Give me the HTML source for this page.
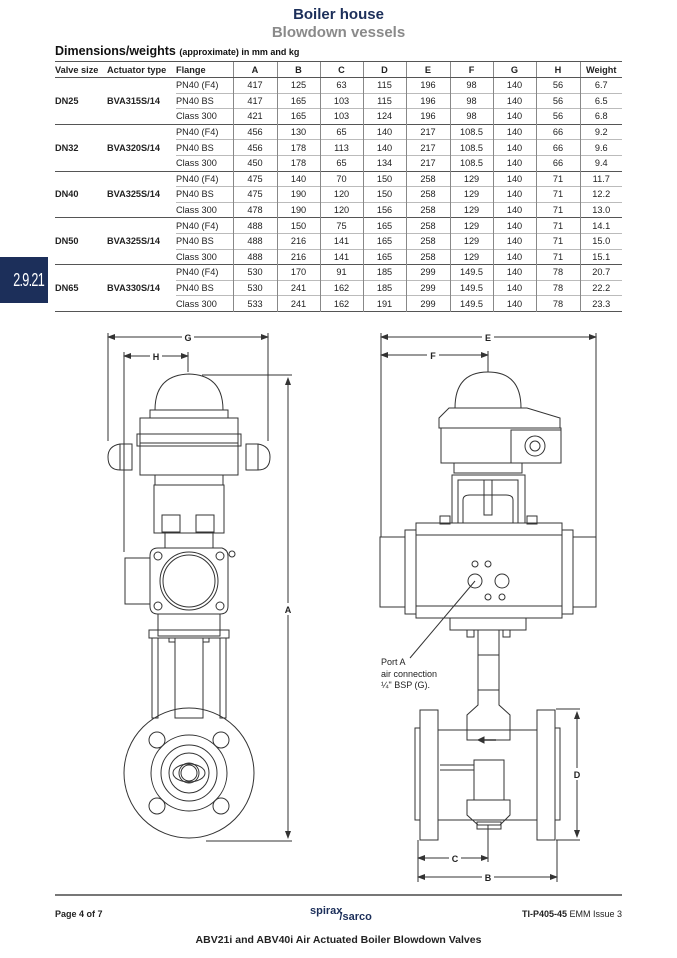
<!DOCTYPE html>
<html><head><meta charset="utf-8"><style>
body{margin:0;width:677px;height:958px;background:#fff;position:relative;font-family:"Liberation Sans",Arial,sans-serif;overflow:hidden}
.a{position:absolute}
h1{position:absolute;margin:0;left:0;width:677px;text-align:center;top:6px;font-size:15px;font-weight:bold;color:#1c2f5a}
h2{position:absolute;margin:0;left:0;width:677px;text-align:center;top:24px;font-size:15px;font-weight:bold;color:#8a8a8a}
table{position:absolute;left:55px;top:61px;width:567px;border-collapse:collapse;font-size:9.2px;color:#222}
td{height:14.6px;padding:0;border-top:1px solid #bbb;text-align:center;border-left:1px solid #888}
tr.g td{border-top:1px solid #555}
td.n{border-left:none;text-align:left;font-weight:bold}
td.f{border-left:none;text-align:left}
th{height:15px;font-weight:bold;border-top:1.5px solid #555;border-bottom:1px solid #555;border-left:1px solid #888;padding:0}
th.l{border-left:none;text-align:left}
table{border-bottom:1px solid #555}
</style></head><body>
<h1>Boiler house</h1><h2>Blowdown vessels</h2>
<div class="a" style="left:55px;top:44px;font-size:12.5px;font-weight:bold;color:#111">Dimensions/weights <span style="font-size:9px">(approximate) in mm and kg</span></div>
<table>
<colgroup><col style="width:52px"><col style="width:69px"><col style="width:57px"><col style="width:44px"><col style="width:43px"><col style="width:43px"><col style="width:43px"><col style="width:44px"><col style="width:43px"><col style="width:43px"><col style="width:44px"><col style="width:42px"></colgroup>
<tr><th class="l">Valve size</th><th class="l" style="padding-left:0">Actuator type</th><th class="l">Flange</th><th>A</th><th>B</th><th>C</th><th>D</th><th>E</th><th>F</th><th>G</th><th>H</th><th>Weight</th></tr>
<tr><td class="n" rowspan="3">DN25</td><td class="n" rowspan="3">BVA315S/14</td><td class="f">PN40 (F4)</td><td>417</td><td>125</td><td>63</td><td>115</td><td>196</td><td>98</td><td>140</td><td>56</td><td>6.7</td></tr>
<tr><td class="f">PN40 BS</td><td>417</td><td>165</td><td>103</td><td>115</td><td>196</td><td>98</td><td>140</td><td>56</td><td>6.5</td></tr>
<tr><td class="f">Class 300</td><td>421</td><td>165</td><td>103</td><td>124</td><td>196</td><td>98</td><td>140</td><td>56</td><td>6.8</td></tr>
<tr class="g"><td class="n" rowspan="3">DN32</td><td class="n" rowspan="3">BVA320S/14</td><td class="f">PN40 (F4)</td><td>456</td><td>130</td><td>65</td><td>140</td><td>217</td><td>108.5</td><td>140</td><td>66</td><td>9.2</td></tr>
<tr><td class="f">PN40 BS</td><td>456</td><td>178</td><td>113</td><td>140</td><td>217</td><td>108.5</td><td>140</td><td>66</td><td>9.6</td></tr>
<tr><td class="f">Class 300</td><td>450</td><td>178</td><td>65</td><td>134</td><td>217</td><td>108.5</td><td>140</td><td>66</td><td>9.4</td></tr>
<tr class="g"><td class="n" rowspan="3">DN40</td><td class="n" rowspan="3">BVA325S/14</td><td class="f">PN40 (F4)</td><td>475</td><td>140</td><td>70</td><td>150</td><td>258</td><td>129</td><td>140</td><td>71</td><td>11.7</td></tr>
<tr><td class="f">PN40 BS</td><td>475</td><td>190</td><td>120</td><td>150</td><td>258</td><td>129</td><td>140</td><td>71</td><td>12.2</td></tr>
<tr><td class="f">Class 300</td><td>478</td><td>190</td><td>120</td><td>156</td><td>258</td><td>129</td><td>140</td><td>71</td><td>13.0</td></tr>
<tr class="g"><td class="n" rowspan="3">DN50</td><td class="n" rowspan="3">BVA325S/14</td><td class="f">PN40 (F4)</td><td>488</td><td>150</td><td>75</td><td>165</td><td>258</td><td>129</td><td>140</td><td>71</td><td>14.1</td></tr>
<tr><td class="f">PN40 BS</td><td>488</td><td>216</td><td>141</td><td>165</td><td>258</td><td>129</td><td>140</td><td>71</td><td>15.0</td></tr>
<tr><td class="f">Class 300</td><td>488</td><td>216</td><td>141</td><td>165</td><td>258</td><td>129</td><td>140</td><td>71</td><td>15.1</td></tr>
<tr class="g"><td class="n" rowspan="3">DN65</td><td class="n" rowspan="3">BVA330S/14</td><td class="f">PN40 (F4)</td><td>530</td><td>170</td><td>91</td><td>185</td><td>299</td><td>149.5</td><td>140</td><td>78</td><td>20.7</td></tr>
<tr><td class="f">PN40 BS</td><td>530</td><td>241</td><td>162</td><td>185</td><td>299</td><td>149.5</td><td>140</td><td>78</td><td>22.2</td></tr>
<tr><td class="f">Class 300</td><td>533</td><td>241</td><td>162</td><td>191</td><td>299</td><td>149.5</td><td>140</td><td>78</td><td>23.3</td></tr>
</table>
<div class="a" style="left:0;top:257px;width:48px;height:46px;background:#1c2f5a"></div>
<div class="a" style="left:0;top:257px;width:44px;height:46px;color:#fff;font-size:18px;line-height:46px;text-align:right;transform:scaleX(0.7);transform-origin:right center;letter-spacing:-1px">2.9.21</div>
<svg class="a" style="left:0;top:0" width="677" height="958" viewBox="0 0 677 958" fill="none" stroke="#333" stroke-width="1" font-family="Liberation Sans,Arial,sans-serif">
<defs><marker id="ar" markerWidth="8" markerHeight="6" refX="7" refY="3" orient="auto-start-reverse"><path d="M0,0L8,3L0,6z" fill="#333" stroke="none"/></marker></defs>
<line x1="108" y1="337" x2="268" y2="337" marker-start="url(#ar)" marker-end="url(#ar)"/>
<line x1="108" y1="333" x2="108" y2="441"/><line x1="268" y1="333" x2="268" y2="441"/>
<rect x="182" y="331" width="12" height="11" fill="#fff" stroke="none"/><text x="188" y="341" font-size="9" font-weight="bold" fill="#222" stroke="none" text-anchor="middle">G</text>
<line x1="124" y1="356" x2="188" y2="356" marker-start="url(#ar)" marker-end="url(#ar)"/>
<line x1="124" y1="352" x2="124" y2="552"/><line x1="188" y1="352" x2="188" y2="372"/>
<rect x="150" y="350" width="12" height="11" fill="#fff" stroke="none"/><text x="156" y="360" font-size="9" font-weight="bold" fill="#222" stroke="none" text-anchor="middle">H</text>
<line x1="288" y1="378" x2="288" y2="838" marker-start="url(#ar)" marker-end="url(#ar)"/>
<line x1="202" y1="375" x2="292" y2="375"/><line x1="206" y1="841" x2="292" y2="841"/>
<rect x="282" y="603" width="12" height="12" fill="#fff" stroke="none"/><text x="288" y="613" font-size="9" font-weight="bold" fill="#222" stroke="none" text-anchor="middle">A</text>
<path d="M155,410 Q155,375 189,374 Q223,375 223,410 Z"/>
<rect x="150" y="410" width="78" height="8"/>
<rect x="140" y="418" width="98" height="25"/>
<rect x="137" y="434" width="104" height="12"/>
<rect x="120" y="444" width="12" height="26"/><rect x="246" y="444" width="12" height="26"/>
<path d="M120,444 Q108,446 108,457 Q108,470 120,470"/><path d="M258,444 Q270,446 270,457 Q270,470 258,470"/>
<rect x="140" y="443" width="98" height="32"/>
<rect x="155" y="475" width="68" height="10"/>
<rect x="154" y="485" width="70" height="48"/>
<rect x="162" y="515" width="18" height="17"/><rect x="196" y="515" width="18" height="17"/>
<rect x="165" y="533" width="48" height="15"/>
<path d="M158,548 L222,548 Q228,550 228,556 L228,606 Q228,614 220,614 L158,614 Q150,614 150,606 L150,556 Q150,548 158,548Z"/>
<circle cx="189" cy="581" r="29"/><circle cx="189" cy="581" r="26"/>
<circle cx="158" cy="556" r="4"/><circle cx="220" cy="556" r="4"/><circle cx="158" cy="606" r="4"/><circle cx="220" cy="606" r="4"/>
<rect x="125" y="558" width="25" height="46"/>
<circle cx="232" cy="554" r="3"/>
<rect x="158" y="614" width="62" height="22"/>
<rect x="149" y="630" width="80" height="8"/>
<rect x="152" y="638" width="6" height="80"/><rect x="220" y="638" width="6" height="80"/>
<rect x="175" y="638" width="28" height="80"/>
<rect x="169" y="638" width="6" height="4"/><rect x="203" y="638" width="6" height="4"/>
<circle cx="189" cy="773" r="65"/>
<circle cx="189" cy="773" r="38"/><circle cx="189" cy="773" r="28"/><circle cx="189" cy="773" r="20"/>
<ellipse cx="189" cy="773" rx="16" ry="9"/><circle cx="189" cy="773" r="10"/><circle cx="189" cy="773" r="8"/>
<circle cx="157" cy="740" r="8"/><circle cx="221" cy="740" r="8"/><circle cx="157" cy="806" r="8"/><circle cx="221" cy="806" r="8"/>
<line x1="381" y1="337" x2="596" y2="337" marker-start="url(#ar)" marker-end="url(#ar)"/>
<line x1="381" y1="333" x2="381" y2="537"/><line x1="596" y1="333" x2="596" y2="537"/>
<rect x="482" y="331" width="12" height="11" fill="#fff" stroke="none"/><text x="488" y="341" font-size="9" font-weight="bold" fill="#222" stroke="none" text-anchor="middle">E</text>
<line x1="381" y1="355" x2="488" y2="355" marker-start="url(#ar)" marker-end="url(#ar)"/>
<line x1="488" y1="351" x2="488" y2="372"/>
<rect x="427" y="349" width="12" height="11" fill="#fff" stroke="none"/><text x="433" y="359" font-size="9" font-weight="bold" fill="#222" stroke="none" text-anchor="middle">F</text>
<line x1="577" y1="712" x2="577" y2="837" marker-start="url(#ar)" marker-end="url(#ar)"/>
<line x1="556" y1="709" x2="580" y2="709"/><line x1="556" y1="840" x2="580" y2="840"/>
<rect x="571" y="768" width="12" height="12" fill="#fff" stroke="none"/><text x="577" y="778" font-size="9" font-weight="bold" fill="#222" stroke="none" text-anchor="middle">D</text>
<line x1="418" y1="858" x2="488" y2="858" marker-start="url(#ar)" marker-end="url(#ar)"/>
<line x1="418" y1="840" x2="418" y2="882"/><line x1="488" y1="825" x2="488" y2="862"/><line x1="557" y1="840" x2="557" y2="882"/>
<rect x="449" y="852" width="12" height="11" fill="#fff" stroke="none"/><text x="455" y="862" font-size="9" font-weight="bold" fill="#222" stroke="none" text-anchor="middle">C</text>
<line x1="418" y1="877" x2="557" y2="877" marker-start="url(#ar)" marker-end="url(#ar)"/>
<rect x="482" y="871" width="12" height="11" fill="#fff" stroke="none"/><text x="488" y="881" font-size="9" font-weight="bold" fill="#222" stroke="none" text-anchor="middle">B</text>
<path d="M455,408 Q455,372 488,372 Q521,372 521,408 Z"/>
<path d="M449,408 L527,408 L560,418 L560,428 L439,428 L439,418Z"/>
<rect x="441" y="428" width="120" height="35"/>
<rect x="511" y="430" width="50" height="33"/>
<circle cx="535" cy="446" r="10"/><circle cx="535" cy="446" r="5"/>
<rect x="454" y="463" width="68" height="10"/>
<path d="M452,523 L452,475 L525,475 L525,523"/><path d="M458,523 L458,480 L518,480 L518,523"/>
<path d="M463,523 L463,500 Q463,495 470,495 L506,495 Q513,495 513,500 L513,523"/>
<rect x="484" y="480" width="8" height="35"/>
<rect x="440" y="516" width="10" height="8"/><rect x="527" y="516" width="10" height="8"/>
<rect x="416" y="523" width="146" height="95"/>
<line x1="416" y1="535" x2="562" y2="535"/><line x1="416" y1="606" x2="562" y2="606"/>
<rect x="405" y="530" width="11" height="84"/><rect x="562" y="530" width="11" height="84"/>
<rect x="380" y="537" width="25" height="70"/><rect x="573" y="537" width="23" height="70"/>
<circle cx="475" cy="564" r="3"/><circle cx="488" cy="564" r="3"/>
<circle cx="475" cy="581" r="7"/><circle cx="502" cy="581" r="7"/>
<circle cx="488" cy="597" r="3"/><circle cx="502" cy="597" r="3"/>
<line x1="475" y1="581" x2="410" y2="658"/>
<rect x="450" y="618" width="76" height="12"/>
<rect x="467" y="630" width="7" height="7"/><rect x="503" y="630" width="7" height="7"/>
<path d="M478,630 L478,705 L467,715 L467,740 L510,740 L510,715 L499,705 L499,630"/>
<rect x="478" y="655" width="21" height="35"/>
<rect x="420" y="710" width="18" height="130"/><rect x="537" y="710" width="18" height="130"/>
<rect x="415" y="728" width="5" height="92"/><rect x="555" y="728" width="5" height="92"/>
<rect x="438" y="730" width="99" height="90"/>
<rect x="474" y="760" width="30" height="40"/>
<path d="M467,800 L510,800 L510,815 L500,825 L478,825 L467,815Z"/>
<rect x="477" y="822" width="24" height="7"/>
<path d="M481,740 L496,740" stroke-width="1.5" fill="none"/><path d="M478,740 L484,737 L484,743Z" fill="#333"/>
<line x1="440" y1="765" x2="474" y2="765"/><line x1="440" y1="770" x2="474" y2="770"/>
<text x="381" y="665" font-size="9" fill="#222" stroke="none">Port A</text>
<text x="381" y="677" font-size="9" fill="#222" stroke="none">air connection</text>
<text x="381" y="688" font-size="9" fill="#222" stroke="none">¼" BSP (G).</text>
<line x1="55" y1="895" x2="622" y2="895" stroke="#777" stroke-width="2"/>
</svg>
<div class="a" style="left:55px;top:909px;font-size:9px;font-weight:bold;color:#222">Page 4 of 7</div>
<div class="a" style="left:310px;top:905px;font-size:11px;font-weight:bold;color:#1c2f5a">spirax<span style="position:relative;top:6px;left:-3px">/sarco</span></div>
<div class="a" style="right:55px;top:909px;font-size:9px;color:#222"><b>TI-P405-45</b> EMM Issue 3</div>
<div class="a" style="left:0;width:677px;text-align:center;top:934px;font-size:10.5px;font-weight:bold;color:#222">ABV21i and ABV40i Air Actuated Boiler Blowdown Valves</div>
</body></html>
